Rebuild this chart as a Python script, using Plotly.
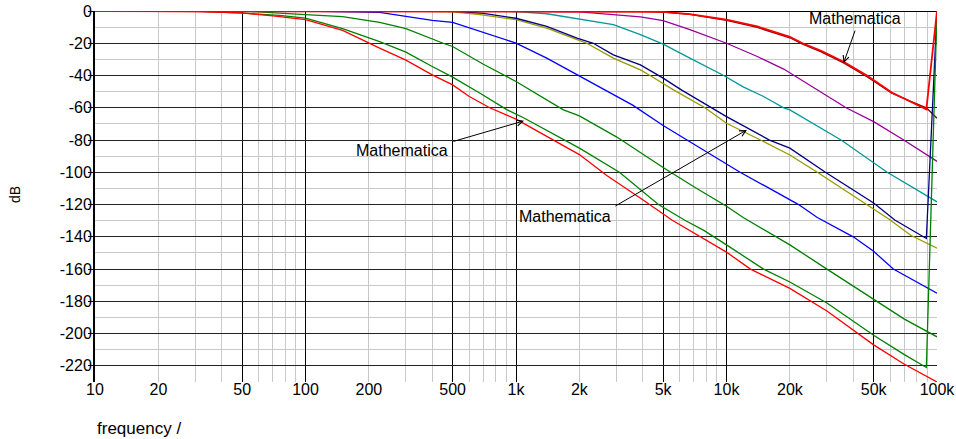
import math
import plotly.graph_objects as go

# ---------------- data ----------------
red_lo_f = [10, 20, 30, 50, 70, 100, 150, 225, 300, 400, 500, 600, 750, 1000, 1500, 2000,
            2700, 3000, 4000, 5500, 7500, 10000, 13000, 20000, 30000, 50000, 70000, 100000]
red_lo_db = [0, 0, -0.3, -1.2, -3, -5.4, -12, -23, -30.5, -39.6, -45.8, -53, -60, -67, -80, -89,
             -102, -106, -117, -129.6, -140, -149.5, -160, -172, -186, -207, -219, -230]

green_lo_f = [10, 30, 50, 75, 100, 150, 225, 300, 400, 500, 675, 900, 1080, 1680, 2000, 3100,
              4750, 6400, 7800, 10000, 15000, 20000, 30000, 50000, 70000, 89000, 100000]
green_lo_db = [0, -0.1, -1.3, -2.7, -4.4, -11, -19, -25.5, -34.4, -41, -51, -61, -66, -80, -85, -100,
               -120, -130, -136, -145, -160, -168, -181, -201, -213, -221, 0]

green_hi_f = [10, 50, 100, 150, 225, 300, 451, 500, 700, 887, 1000, 1680, 2000, 3000, 3900, 5000,
              7000, 10000, 12000, 17400, 20000, 30000, 50000, 70000, 100000]
green_hi_db = [0, 0, -2.3, -3.5, -7, -11, -20, -22, -33, -40, -43.7, -61.3, -65, -78, -88, -97,
               -109, -121, -128, -140, -145, -160, -179, -191, -202]

blue_f = [10, 100, 225, 400, 500, 675, 1000, 1400, 1950, 2900, 3600, 5000, 6500, 10000, 11600,
          16000, 22000, 27000, 40000, 50000, 62000, 100000]
blue_db = [0, 0, -0.9, -5.8, -7, -12.7, -19.9, -29.2, -39.6, -52, -58.5, -71, -80, -95, -100,
           -110, -120, -128, -140, -149, -160, -175]

olive_f = [10, 300, 500, 675, 1000, 1400, 1950, 2170, 2900, 3900, 4330, 5600, 7900, 10000, 14500,
           20000, 27000, 50000, 59000, 75000, 100000]
olive_db = [0, 0, -0.6, -2.3, -5.4, -10.6, -17.8, -20, -29.2, -36.5, -40, -48.9, -60, -69.6, -80,
            -89.3, -100, -123, -129, -139, -147]

navy_f = [10, 500, 700, 1000, 1400, 1950, 2330, 2900, 3900, 4750, 5000, 6100, 8500, 10000, 16000,
          20000, 29500, 50000, 63000, 89000, 100000]
navy_db = [0, 0, -1.5, -4.5, -9.5, -16.8, -20, -27.2, -33.4, -40, -41.6, -48.9, -60, -65.5, -80,
           -85, -100, -119, -129.6, -141, 0]

teal_f = [10, 700, 1000, 1400, 1950, 2900, 3900, 5000, 6700, 9700, 12000, 15000, 18700, 20000,
          35000, 50000, 58000, 100000]
teal_db = [0, 0, -0.3, -1.7, -5, -8.5, -14.7, -20.5, -29.2, -40, -47, -53, -60, -61.3,
           -80, -94.4, -100, -118.3]

purple_f = [10, 1000, 2000, 2900, 3900, 5000, 6700, 10000, 14000, 18700, 27000, 37000, 50000,
            69500, 100000]
purple_db = [0, 0, -0.5, -2.3, -3.7, -6, -11.6, -20, -28.2, -36, -48.9, -60, -68.6, -80, -93.2]

maroon_f = [10, 3900, 5000, 6700, 10000, 14000, 20000, 23000, 28000, 36000, 46500, 61000, 75000,
            89000, 100000]
maroon_db = [0, -0.2, -0.7, -2.1, -5.8, -10.2, -16.6, -20.6, -25.2, -32.2, -40.8, -51, -56, -60, -66.5]

red_hi_f = [10, 3900, 5000, 6700, 10000, 14000, 20000, 23000, 28000, 36000, 46500, 61000, 75000,
            89000, 100000]
red_hi_db = [0, -0.2, -0.6, -1.9, -5.4, -9.6, -16, -20, -24.5, -31.5, -40, -50.5, -56, -61, 0]

x_tick_vals = [10, 20, 50, 100, 200, 500, 1000, 2000, 5000, 10000, 20000, 50000, 100000]
x_tick_text = ["10", "20", "50", "100", "200", "500", "1k", "2k", "5k", "10k", "20k", "50k", "100k"]
x_major_grid = [10, 50, 100, 500, 1000, 5000, 10000, 50000, 100000]
x_minor_grid = [m * d for d in (10, 100, 1000, 10000) for m in (2, 3, 4, 6, 7, 8, 9)]
y_tick_vals = [0, -20, -40, -60, -80, -100, -120, -140, -160, -180, -200, -220]
y_tick_text = ["0", "-20", "-40", "-60", "-80", "-100", "-120", "-140", "-160", "-180", "-200", "-220"]

# ---------------- figure ----------------
FONT = "Liberation Sans, Arial, sans-serif"
fig = go.Figure()

series = [
    (maroon_f, maroon_db, "#800000", 1.3),
    (purple_f, purple_db, "#990099", 1.3),
    (teal_f, teal_db, "#009999", 1.3),
    (olive_f, olive_db, "#999900", 1.3),
    (navy_f, navy_db, "#000080", 1.3),
    (blue_f, blue_db, "#0000ff", 1.3),
    (green_hi_f, green_hi_db, "#008000", 1.3),
    (green_lo_f, green_lo_db, "#008000", 1.3),
    (red_lo_f, red_lo_db, "#ff0000", 1.3),
]
for fx, fy, col, w in series:
    fig.add_trace(go.Scatter(x=fx, y=fy, mode="lines", line=dict(color=col, width=w),
                             showlegend=False, hoverinfo="skip", xaxis="x", yaxis="y"))
# top red curve on the label axis (same range), drawn last
fig.add_trace(go.Scatter(x=red_hi_f, y=red_hi_db, mode="lines", line=dict(color="#ff0000", width=1.8),
                         showlegend=False, hoverinfo="skip", xaxis="x2", yaxis="y"))

fig.update_layout(
    width=956, height=439,
    margin=dict(l=95, r=19, t=11, b=57, autoexpand=False),
    paper_bgcolor="white", plot_bgcolor="white",
    font=dict(family=FONT, size=16, color="black"),
    xaxis=dict(type="log", range=[1, 5], tickmode="array", tickvals=x_major_grid,
               showticklabels=False, ticks="", showgrid=True, gridcolor="black", gridwidth=1,
               zeroline=False, showline=False,
               minor=dict(tickmode="array", tickvals=x_minor_grid, showgrid=True,
                          gridcolor="#c8c8c8", gridwidth=1, ticks="")),
    xaxis2=dict(type="log", range=[1, 5], overlaying="x", side="bottom", anchor="y",
                tickmode="array", tickvals=x_tick_vals, ticktext=x_tick_text,
                showgrid=False, zeroline=False, showline=False, ticks="",
                ticklabelstandoff=-4, ticklabeloverflow="allow",
                tickfont=dict(family=FONT, size=16, color="black")),
    yaxis=dict(range=[-230, 0], tickmode="array", tickvals=y_tick_vals, ticktext=y_tick_text,
               showgrid=True, gridcolor="#222222", gridwidth=1,
               zeroline=True, zerolinecolor="black", zerolinewidth=1,
               showline=True, linecolor="black", linewidth=2,
               ticks="outside", ticklen=5, tickcolor="black", tickwidth=1,
               ticklabelstandoff=-7, ticklabeloverflow="allow",
               tickfont=dict(family=FONT, size=16, color="black"),
               minor=dict(dtick=10, tick0=0, showgrid=True, gridcolor="#c8c8c8", gridwidth=1, ticks="")),
)

# axis titles
fig.add_annotation(text="dB", xref="paper", yref="paper", x=0, y=0.504, xanchor="center",
                   yanchor="middle", xshift=-80, textangle=-90, showarrow=False,
                   font=dict(family=FONT, size=14, color="black"))
fig.add_annotation(text="frequency /", xref="paper", yref="paper", x=0, y=0, xanchor="left",
                   yanchor="middle", xshift=0, yshift=-46, showarrow=False,
                   font=dict(family=FONT, size=17, color="black"))

# "Mathematica" labels and arrows
labels = [
    # text left x (Hz), text y (dB), arrow tip (Hz, dB), tail offset px (ax, ay)
    (176, -86.6, 1091, -68.1, -72, 21),
    (1045, -127.1, 12500, -73.7, -133, 77),
    (24800, -4.8, 36000, -32.3, 12, -34),
]
for tx, ty, ax_f, ax_db, dx, dy in labels:
    fig.add_annotation(text="Mathematica", x=math.log10(tx), y=ty, xref="x", yref="y",
                       xanchor="left", yanchor="middle", showarrow=False, xshift=-3,
                       font=dict(family=FONT, size=16, color="black"))
    fig.add_annotation(text="", x=math.log10(ax_f), y=ax_db, xref="x", yref="y", showarrow=True,
                       ax=dx, ay=dy, axref="pixel", ayref="pixel",
                       arrowhead=5, arrowsize=1.2, arrowwidth=1, arrowcolor="black")

# remove the browser's default 8px body margin so the figure sits at the window origin
fig.write_html("out.html", config={"displayModeBar": False},
               post_script="document.body.style.margin='0';")
